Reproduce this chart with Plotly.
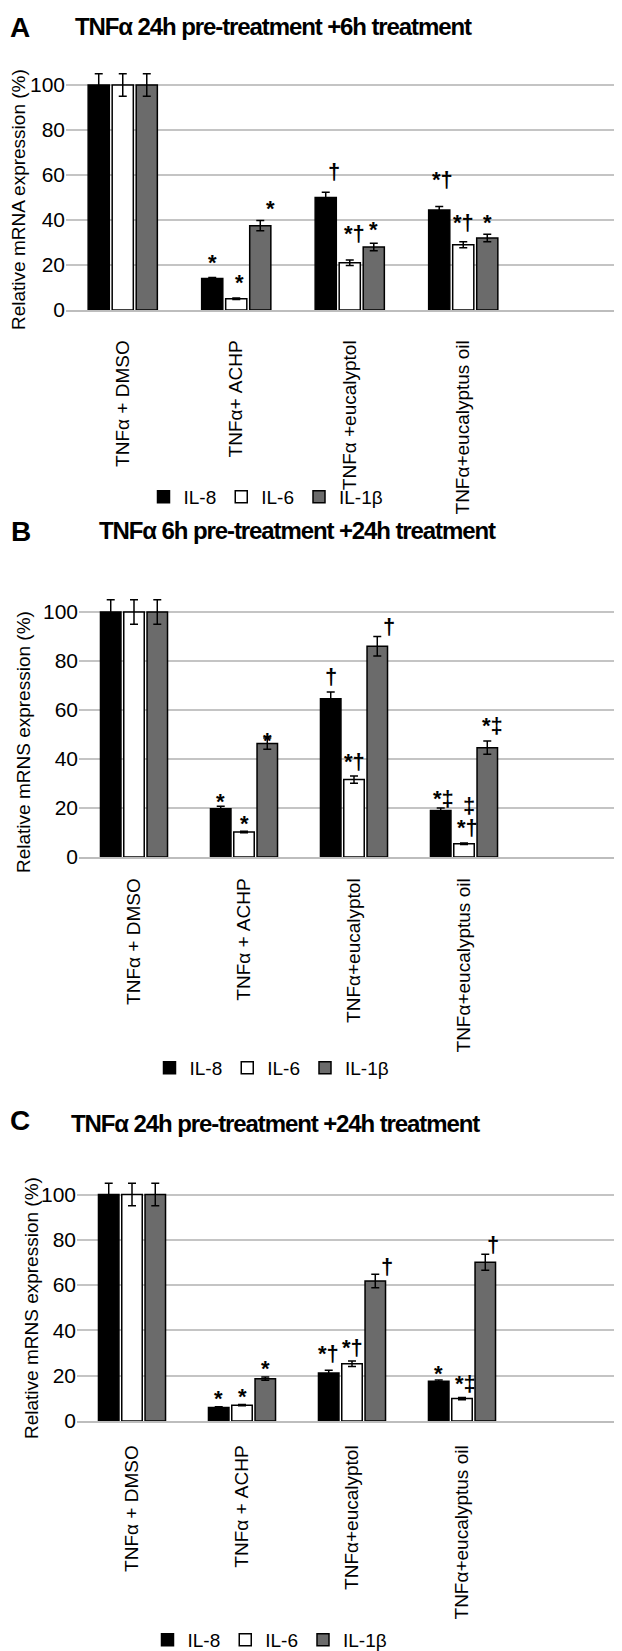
import plotly.graph_objects as go
from plotly.subplots import make_subplots

genes = ["IL-8", "IL-6", "IL-1β"]
gene_colors = ["#000000", "#ffffff", "#6b6b6b"]

labels_a = ["TNFα + DMSO", "TNFα+ ACHP", "TNFα +eucalyptol", "TNFα+eucalyptus oil"]
labels_bc = ["TNFα + DMSO", "TNFα + ACHP", "TNFα+eucalyptol", "TNFα+eucalyptus oil"]

# panel A: 24h pre-treatment + 6h treatment
a_il8 = [100, 14, 50, 44.5]
a_il6 = [100, 5, 21, 29]
a_il1b = [100, 37.5, 28, 32]
a_il8_err = [5, 0.5, 2.3, 1.5]
a_il6_err = [5, 0.3, 1.2, 1.3]
a_il1b_err = [5, 2.3, 1.7, 1.7]

# panel B: 6h pre-treatment + 24h treatment
b_il8 = [100, 19.7, 64.6, 19]
b_il6 = [100, 10.2, 31.6, 5.4]
b_il1b = [100, 46.3, 86, 44.6]
b_il8_err = [5, 1, 2.7, 1]
b_il6_err = [5, 0.3, 1.5, 0.3]
b_il1b_err = [5, 2.3, 4, 2.7]

# panel C: 24h pre-treatment + 24h treatment
c_il8 = [100, 6, 21.2, 17.6]
c_il6 = [100, 7, 25.3, 9.9]
c_il1b = [100, 18.7, 61.8, 70.1]
c_il8_err = [5, 0.3, 1.2, 0.5]
c_il6_err = [5, 0.3, 1.2, 0.5]
c_il1b_err = [5, 0.7, 3, 3.5]

# significance marks: (category, gene, text, y, xshift)
marks_a = [(1, 0, "*", 23.7, 0), (1, 1, "*", 14.8, 3), (1, 2, "*", 48, 10),
           (2, 0, "†", 61.5, 8), (2, 1, "*†", 34, 5), (2, 2, "*", 38.5, 0),
           (3, 0, "*†", 58, 3), (3, 1, "*†", 39, 0), (3, 2, "*", 41.5, 0)]
marks_b = [(1, 0, "*", 25, 0), (1, 1, "*", 16, 0), (1, 2, "*", 50, 0),
           (2, 0, "†", 73.5, 0), (2, 1, "*†", 38.8, 0), (2, 2, "†", 94, 12),
           (3, 0, "*‡", 23.8, 3), (3, 1, "‡", 21, 5), (3, 1, "*†", 12.2, 3),
           (3, 2, "*‡", 53.7, 5)]
marks_c = [(1, 0, "*", 12.8, 0), (1, 1, "*", 13.5, 0), (1, 2, "*", 26, 0),
           (2, 0, "*†", 29.7, 0), (2, 1, "*†", 32.6, 0), (2, 2, "†", 68, 12),
           (3, 0, "*", 23.8, 0), (3, 1, "*‡", 16.5, 3), (3, 2, "†", 78, 8)]

titles = ["TNFα 24h pre-treatment +6h treatment",
          "TNFα 6h pre-treatment +24h treatment",
          "TNFα 24h pre-treatment +24h treatment"]
ytitles = ["Relative mRNA expression (%)",
           "Relative mRNS expression (%)",
           "Relative mRNS expression (%)"]

W, H = 622, 1651
OFF = 8  # page body margin around the plot div
SANS = "Liberation Sans, Arial"
BARGAP = 0.365
RIGHT = 617


def px_x(px):
    return (px - OFF) / W


def px_y(py):
    return 1 - (py - OFF) / H


panels = [
    dict(labels=labels_a, vals=[a_il8, a_il6, a_il1b], errs=[a_il8_err, a_il6_err, a_il1b_err],
         marks=marks_a, y0=310, ppu=2.25, x0=66, cat=113.5,
         letter=(20, 27), title=(273, 26), ytitle=(19, 200), legend=(266, 497), standoff=21),
    dict(labels=labels_bc, vals=[b_il8, b_il6, b_il1b], errs=[b_il8_err, b_il6_err, b_il1b_err],
         marks=marks_b, y0=857, ppu=2.45, x0=79, cat=110,
         letter=(21, 531), title=(297, 530), ytitle=(24, 742), legend=(272, 1068), standoff=12),
    dict(labels=labels_bc, vals=[c_il8, c_il6, c_il1b], errs=[c_il8_err, c_il6_err, c_il1b_err],
         marks=marks_c, y0=1421, ppu=2.265, x0=77, cat=110,
         letter=(20, 1120), title=(275, 1123), ytitle=(31, 1308), legend=(270, 1640), standoff=15),
]

fig = make_subplots(rows=3, cols=1)
YMAX = 108
slot = (1 - BARGAP) / 3
annotations = []

for p, panel in enumerate(panels):
    row = p + 1
    lg = "legend" if p == 0 else f"legend{p + 1}"
    for g in range(3):
        fig.add_trace(go.Bar(
            x=panel["labels"], y=panel["vals"][g], name=genes[g],
            marker=dict(color=gene_colors[g], line=dict(color="black", width=1.5)),
            error_y=dict(type="data", array=panel["errs"][g], color="black",
                         thickness=1.5, width=4),
            legend=lg, showlegend=True,
        ), row=row, col=1)

    top = panel["y0"] - YMAX * panel["ppu"]
    xr = (RIGHT - panel["x0"]) / panel["cat"] - 0.5
    fig.update_xaxes(row=row, col=1, domain=[px_x(panel["x0"]), px_x(RIGHT)],
                     range=[-0.5, xr], tickangle=-90, automargin=False,
                     tickfont=dict(family=SANS, size=19, color="black"),
                     showline=True, linecolor="#bdbdbd", linewidth=1.5,
                     showgrid=False, ticks="", ticklabelstandoff=panel["standoff"])
    fig.update_yaxes(row=row, col=1, domain=[px_y(panel["y0"]), px_y(top)],
                     range=[0, YMAX], tickvals=[0, 20, 40, 60, 80, 100], automargin=False,
                     tickfont=dict(family=SANS, size=21, color="black"),
                     showgrid=True, gridcolor="#c4c4c4", gridwidth=1.5,
                     zeroline=False, showline=False, ticks="")

    xref = "x" if p == 0 else f"x{p + 1}"
    yref = "y" if p == 0 else f"y{p + 1}"
    for cat, g, txt, yv, xs in panel["marks"]:
        annotations.append(dict(
            x=cat + (g - 1) * slot, y=yv, xref=xref, yref=yref, text=f"<b>{txt}</b>",
            showarrow=False, xshift=xs, yshift=-6 if txt == "*" else 0,
            xanchor="center", yanchor="middle",
            font=dict(family=SANS, size=22, color="black")))

    lx, ly = panel["letter"]
    annotations.append(dict(x=px_x(lx), y=px_y(ly), xref="paper", yref="paper",
                            xanchor="center", yanchor="middle",
                            text="<b>" + "ABC"[p] + "</b>", showarrow=False,
                            font=dict(family=SANS, size=28, color="black")))
    tx, ty = panel["title"]
    annotations.append(dict(x=px_x(tx), y=px_y(ty), xref="paper", yref="paper",
                            xanchor="center", yanchor="middle",
                            text="<b><span style='letter-spacing:-1.1px'>" + titles[p] + "</span></b>",
                            showarrow=False,
                            font=dict(family=SANS, size=24, color="black")))
    yx, yy = panel["ytitle"]
    annotations.append(dict(x=px_x(yx), y=px_y(yy), xref="paper", yref="paper",
                            xanchor="center", yanchor="middle",
                            text=ytitles[p], textangle=-90, showarrow=False,
                            font=dict(family=SANS, size=19, color="black")))

    lgx, lgy = panel["legend"]
    fig.update_layout({lg: dict(orientation="h", x=px_x(lgx), y=px_y(lgy),
                                xanchor="center", yanchor="middle",
                                font=dict(family=SANS, size=19, color="black"),
                                itemwidth=30, bgcolor="rgba(0,0,0,0)")})

fig.update_layout(
    width=W, height=H, margin=dict(l=0, r=0, t=0, b=0, autoexpand=False),
    paper_bgcolor="white", plot_bgcolor="white",
    barmode="group", bargap=BARGAP, bargroupgap=0.12,
    annotations=annotations, font=dict(family=SANS, color="black"),
)

fig.write_html("out.html")
